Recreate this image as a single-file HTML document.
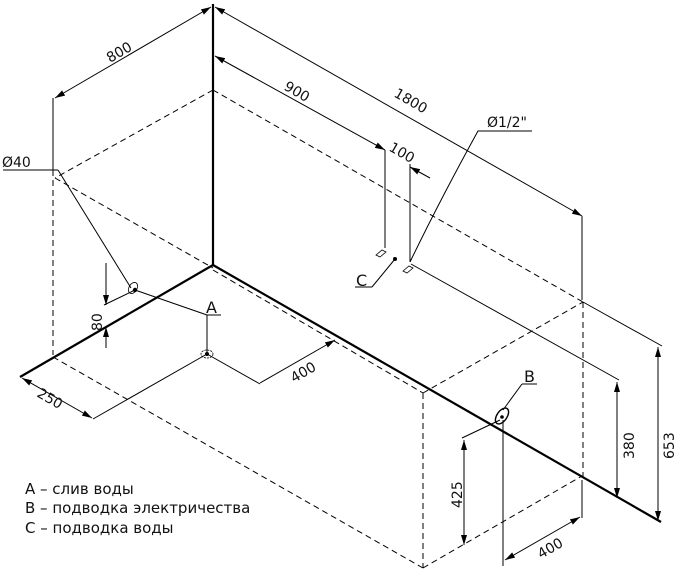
<!DOCTYPE html>
<html><head><meta charset="utf-8"><style>
html,body{margin:0;padding:0;background:#fff;}
svg{display:block;}
text{font-family:"DejaVu Sans","Liberation Sans",sans-serif;fill:#111;}
</style></head><body>
<svg width="674" height="572" viewBox="0 0 674 572" xmlns="http://www.w3.org/2000/svg">
<defs>
<marker id="a" viewBox="0 0 10 6" refX="10" refY="3" markerWidth="10" markerHeight="6" orient="auto-start-reverse" markerUnits="userSpaceOnUse">
<path d="M0,0 L10,3 L0,6 z" fill="#000"/></marker>
</defs>
<g stroke="#000" fill="none">
<g stroke-width="2.2">
<line x1="213" y1="4" x2="213" y2="265"/>
<line x1="213" y1="265" x2="20" y2="377"/>
<line x1="213" y1="265" x2="661" y2="522"/>
</g>
<g stroke-width="1" stroke-dasharray="6,4">
<line x1="213" y1="90" x2="55" y2="178"/>
<line x1="213" y1="90" x2="583" y2="302"/>
<line x1="55" y1="178" x2="213" y2="268"/>
<line x1="213" y1="270" x2="423" y2="393"/>
<line x1="53" y1="180" x2="53" y2="355"/>
<line x1="53" y1="357" x2="423" y2="568"/>
<line x1="423" y1="393" x2="423" y2="568"/>
<line x1="423" y1="393" x2="583" y2="302"/>
<line x1="423" y1="568" x2="582" y2="476"/>
<line x1="583" y1="302" x2="583" y2="480"/>
</g>
<g stroke-width="1">
<line x1="53" y1="98" x2="53" y2="176"/>
<line x1="55" y1="98" x2="211" y2="7" marker-start="url(#a)" marker-end="url(#a)"/>
<line x1="215" y1="7" x2="582" y2="216" marker-start="url(#a)" marker-end="url(#a)"/>
<line x1="215" y1="56" x2="385" y2="150" marker-start="url(#a)" marker-end="url(#a)"/>
<line x1="430" y1="178" x2="410" y2="167" marker-end="url(#a)"/>
<line x1="385" y1="150" x2="385" y2="248"/>
<line x1="410" y1="164" x2="410" y2="262"/>
<line x1="582" y1="216" x2="582" y2="300"/>
<line x1="582" y1="480" x2="582" y2="518"/>
<line x1="395" y1="259" x2="372" y2="287"/>
<line x1="372" y1="287" x2="355" y2="287"/>
<path d="M410,262 Q440,200 478,131 L532,131"/>
<line x1="411" y1="264" x2="619" y2="380"/>
<line x1="617" y1="382" x2="617" y2="498" marker-start="url(#a)" marker-end="url(#a)"/>
<line x1="583" y1="302" x2="662" y2="346"/>
<line x1="658" y1="347" x2="658" y2="521" marker-start="url(#a)" marker-end="url(#a)"/>
<line x1="503" y1="410" x2="522" y2="384"/>
<line x1="522" y1="384" x2="537" y2="384"/>
<line x1="500" y1="420" x2="462" y2="438"/>
<line x1="464" y1="440" x2="464" y2="545" marker-start="url(#a)" marker-end="url(#a)"/>
<line x1="503" y1="420" x2="503" y2="566"/>
<line x1="505" y1="560" x2="580" y2="517" marker-start="url(#a)" marker-end="url(#a)"/>
<line x1="3" y1="170" x2="58" y2="170"/>
<line x1="58" y1="170" x2="131" y2="288"/>
<line x1="106" y1="263" x2="106" y2="305" marker-end="url(#a)"/>
<line x1="106" y1="348" x2="106" y2="327" marker-end="url(#a)"/>
<line x1="135" y1="290" x2="104" y2="305"/>
<line x1="135" y1="290" x2="207" y2="315"/>
<line x1="207" y1="315" x2="221" y2="315"/>
<line x1="207" y1="315" x2="207" y2="352"/>
<line x1="207" y1="354" x2="93" y2="419"/>
<line x1="22" y1="378" x2="92" y2="418" marker-start="url(#a)" marker-end="url(#a)"/>
<line x1="207" y1="354" x2="260" y2="384"/>
<line x1="260" y1="383" x2="335" y2="340" marker-end="url(#a)"/>
</g>
<ellipse cx="207" cy="354" rx="6" ry="4" stroke-width="0.8" stroke-dasharray="2,1"/>
<ellipse cx="133" cy="288" rx="4" ry="6" stroke-width="0.8" transform="rotate(30 133 288)"/>
<ellipse cx="502" cy="416" rx="5" ry="9" stroke-width="1.4" transform="rotate(35 502 416)"/>
<g stroke-width="0.8">
<path d="M376,255 l6,-5 l4,2 l-6,5 z"/>
<path d="M403,271 l6,-5 l4,2 l-6,5 z"/>
</g>
</g>
<g fill="#000">
<circle cx="207" cy="354" r="2"/><circle cx="135" cy="290" r="2.2"/>
<circle cx="395" cy="259" r="2"/><circle cx="502" cy="417" r="1.8"/>
</g>
<g font-size="14">
<text transform="translate(110,63) rotate(-30)">800</text>
<text transform="translate(283,89) rotate(30)">900</text>
<text transform="translate(393,96) rotate(30)">1800</text>
<text transform="translate(388,150) rotate(30)">100</text>
<text x="487" y="127">Ø1/2"</text>
<text x="2" y="167">Ø40</text>
<text x="356" y="286" font-size="16">C</text>
<text x="206" y="313" font-size="16">A</text>
<text x="524" y="382" font-size="16">B</text>
<text transform="translate(102,331) rotate(-90)">80</text>
<text transform="translate(36,396) rotate(30)">250</text>
<text transform="translate(294,383) rotate(-30)">400</text>
<text transform="translate(462,508) rotate(-90)">425</text>
<text transform="translate(634,459) rotate(-90)">380</text>
<text transform="translate(674,459) rotate(-90)">653</text>
<text transform="translate(541,559) rotate(-30)">400</text>
</g>
<g font-size="15">
<text x="25" y="494">A – слив воды</text>
<text x="25" y="513">B – подводка электричества</text>
<text x="25" y="533">C – подводка воды</text>
</g>
</svg>
</body></html>
